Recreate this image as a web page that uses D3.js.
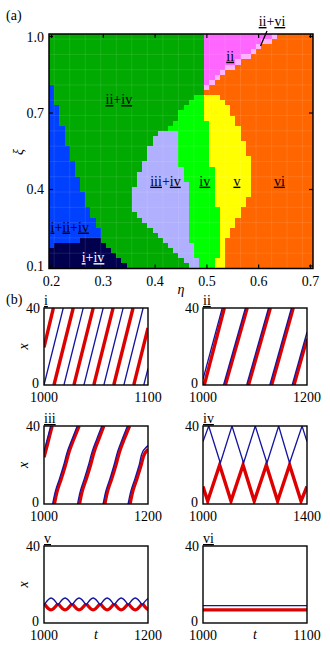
<!DOCTYPE html>
<html>
<head>
<meta charset="utf-8">
<script src="https://cdn.jsdelivr.net/npm/d3@7"></script>
<style>
  body { margin: 0; background: #fff; }
  svg, svg text { font-family: "Liberation Serif", "Times New Roman", "DejaVu Serif", serif; }
</style>
</head>
<body>
<div id="chart"></div>
<script>
// ---- panel (a) data: phase diagram, one row per xi (top = 1.00), runs of [region, first column]
const etaTicks = [0.2, 0.3, 0.4, 0.5, 0.6, 0.7];
const xiTicks = [0.1, 0.4, 0.7, 1.0];
const etaStart = 0.2, etaStep = 0.01, nCols = 51;
const xiTop = 1.0, xiStep = 0.02;
const regionColors = {
  N: "#00004f", B: "#0040ff", G: "#00aa00", A: "#b0b0ff", I: "#00ff00",
  Y: "#ffff00", O: "#ff6600", P: "#ff66ff", L: "#ffb3ff"
};
const rowRuns = [
  [["G",0],["P",30],["L",43],["O",44]],
  [["G",0],["P",30],["L",41],["O",43]],
  [["G",0],["P",30],["L",40],["O",41]],
  [["G",0],["P",30],["L",39],["O",40]],
  [["G",0],["P",30],["L",37],["O",39]],
  [["G",0],["P",30],["L",36],["O",37]],
  [["G",0],["P",30],["L",34],["O",36]],
  [["G",0],["P",30],["L",33],["O",34]],
  [["G",0],["P",30],["L",32],["O",33]],
  [["G",0],["P",30],["L",31],["O",32]],
  [["B",0],["G",1],["L",30],["O",31]],
  [["B",0],["G",1],["O",30]],
  [["B",0],["G",1],["I",28],["Y",30],["O",33]],
  [["B",0],["G",1],["I",27],["Y",30],["O",34]],
  [["B",0],["G",2],["I",26],["Y",30],["O",35]],
  [["B",0],["G",2],["I",25],["Y",30],["O",35]],
  [["B",0],["G",2],["I",25],["Y",30],["O",36]],
  [["B",0],["G",2],["I",24],["Y",31],["O",36]],
  [["B",0],["G",3],["I",23],["Y",31],["O",37]],
  [["B",0],["G",3],["A",21],["I",25],["Y",31],["O",37]],
  [["B",0],["G",3],["A",20],["I",25],["Y",31],["O",37]],
  [["B",0],["G",3],["A",20],["I",25],["Y",31],["O",38]],
  [["B",0],["G",4],["A",19],["I",25],["Y",31],["O",38]],
  [["B",0],["G",4],["A",19],["I",25],["Y",31],["O",38]],
  [["B",0],["G",4],["A",19],["I",25],["Y",31],["O",39]],
  [["B",0],["G",5],["A",18],["I",25],["Y",31],["O",39]],
  [["B",0],["G",5],["A",18],["I",26],["Y",32],["O",39]],
  [["B",0],["G",5],["A",17],["I",26],["Y",32],["O",39]],
  [["B",0],["G",6],["A",17],["I",26],["Y",32],["O",39]],
  [["B",0],["G",6],["A",17],["I",27],["Y",32],["O",39]],
  [["B",0],["G",6],["A",16],["I",27],["Y",32],["O",39]],
  [["B",0],["G",7],["A",16],["I",27],["Y",32],["O",39]],
  [["B",0],["G",7],["A",16],["I",27],["Y",32],["O",38]],
  [["B",0],["G",7],["A",16],["I",27],["Y",32],["O",38]],
  [["B",0],["G",8],["A",16],["I",27],["Y",33],["O",37]],
  [["B",0],["G",8],["A",17],["I",27],["Y",33],["O",37]],
  [["B",0],["G",9],["A",18],["I",27],["Y",33],["O",36]],
  [["B",0],["G",9],["A",19],["I",27],["Y",33],["O",36]],
  [["B",0],["G",10],["A",20],["I",27],["Y",33],["O",35]],
  [["B",0],["G",10],["A",21],["I",27],["Y",33],["O",35]],
  [["B",0],["N",6],["G",10],["A",22],["I",27],["Y",33],["O",34]],
  [["B",0],["N",1],["G",11],["A",23],["I",28],["Y",33],["O",34]],
  [["N",0],["G",12],["A",24],["I",28],["Y",33],["O",34]],
  [["N",0],["G",13],["A",25],["I",28],["Y",33],["O",34]],
  [["N",0],["G",14],["A",26],["I",29],["Y",32],["O",34]],
  [["N",0],["G",15],["A",27],["I",29],["Y",32],["O",34]]
];
// region labels: [eta, xi, parts, white?]
const regionLabels = [
  [0.33, 0.735, ["ii","+","iv"], false],
  [0.235, 0.235, ["i","+","ii","+","iv"], false],
  [0.28, 0.115, ["i","+","iv"], true],
  [0.42, 0.415, ["iii","+","iv"], false],
  [0.496, 0.415, ["iv"], false],
  [0.558, 0.415, ["v"], false],
  [0.64, 0.415, ["vi"], false],
  [0.545, 0.905, ["ii"], false]
];

// ---- panel (b) data: trajectories x(t), red = thick, blue = thin
const panelNames = ["i", "ii", "iii", "iv", "v", "vi"];
const panelTEnd = [1100, 1200, 1200, 1400, 1200, 1100];
const xTicksB = [0, 40];
// i, ii: straight wrapped segments [t0, x0, t1, x1]
const redI = [[1000,19.5,1009,40],[1009.6,0,1028.1,40],[1028.8,0,1047.3,40],[1047.9,0,1066.4,40],[1067.1,0,1085.6,40],[1086.3,0,1100,29.6]];
const blueI = [[1000,0,1018.5,40],[1019.2,0,1037.7,40],[1038.4,0,1056.9,40],[1057.6,0,1076.1,40],[1076.8,0,1095.3,40],[1096,0,1100,8.6]];
const redII = [[1002.5,0,1041,40],[1043,0,1085,40],[1087.5,0,1129.5,40],[1132,0,1173.5,40],[1175,0,1200,24]];
const blueII = [[1000,3,1037,40],[1039.5,0,1081.5,40],[1084,0,1126,40],[1128.5,0,1170,40],[1171.5,0,1200,27.5]];
// iii: wavy wrapped lines, points [t, x]
const redIII = [
  [[1000,24],[1007,31],[1015.5,40]],
  [[1020,0],[1025.7,7],[1033.2,13],[1041.3,20],[1048.4,27],[1056.8,33],[1067.5,40]],
  [[1068.2,0],[1073.9,7],[1081.4,13],[1089.5,20],[1096.6,27],[1105,33],[1115,40]],
  [[1117,0],[1122.7,7],[1130.2,13],[1138.3,20],[1145.4,27],[1153.8,33],[1164.5,40]],
  [[1165.5,0],[1171.2,7],[1178.7,13],[1186.8,20],[1193.9,26],[1200,28]]
];
const blueIII = [
  [[1000,27],[1006,33],[1012.8,40]],
  [[1016.6,0],[1022.3,7],[1029.8,13],[1037.9,20],[1045,27],[1053.5,33],[1063.9,40]],
  [[1064.5,0],[1070.2,7],[1077.6,13],[1085.6,20],[1092.7,27],[1101,33],[1111.2,40]],
  [[1113.7,0],[1119.3,7],[1126.8,13],[1134.7,20],[1141.7,27],[1150,33],[1160.4,40]],
  [[1161.7,0],[1167.4,7],[1174.9,13],[1183,20],[1190.1,27],[1200,30]]
];
// iv: zigzags
const redIV = [[1000,9],[1018,1.5],[1064,20],[1107.7,1.5],[1154,20],[1197,1.5],[1243.6,20],[1287,1.5],[1333,20],[1377,1.5],[1400,9]];
const blueIV = [[1000,32],[1022,40],[1066.7,21],[1111.5,40],[1156,21],[1201,40],[1246,21],[1291,40],[1333,21],[1381,40],[1400,32]];
// v: chains of arcs, cusp times and extremum times
const cuspsV = [1000, 1027, 1054, 1081, 1108, 1135, 1162, 1189, 1216];
const peaksV = [1013.5, 1040.5, 1067.5, 1094.5, 1121.5, 1148.5, 1175.5, 1202.5];
const blueVLevels = [9.3, 13];   // cusp, peak
const redVLevels = [10.2, 6.8];  // cusp, trough
// vi: steady positions
const redVI = [[1000,6.8],[1100,6.8]];
const blueVI = [[1000,9],[1100,9]];

const RED = "#dd0000", BLUE = "#1414a0";
const FONT = "'Liberation Serif', 'Times New Roman', serif";
const W = 330, H = 655;

const svg = d3.select("#chart").append("svg").attr("width", W).attr("height", H)
  .attr("font-family", FONT);

// ================= panel (a) =================
const ax = { left: 49, right: 313, top: 34, bottom: 268.5 };
const x = d3.scaleLinear().domain([etaStart - etaStep / 2, 0.7 + etaStep / 2]).range([ax.left, ax.right]);
const y = d3.scaleLinear().domain([0.1 - xiStep / 2, xiTop + xiStep / 2]).range([ax.bottom, ax.top]);

const cells = svg.append("g").attr("shape-rendering", "crispEdges");
rowRuns.forEach((runs, r) => {
  const xi = xiTop - r * xiStep;
  runs.forEach(([code, start], k) => {
    const end = k + 1 < runs.length ? runs[k + 1][1] : nCols;
    const e0 = etaStart + (start - 0.5) * etaStep;
    const e1 = etaStart + (end - 0.5) * etaStep;
    cells.append("rect")
      .attr("x", x(e0)).attr("width", x(e1) - x(e0))
      .attr("y", y(xi + xiStep / 2)).attr("height", y(xi - xiStep / 2) - y(xi + xiStep / 2) + 0.3)
      .attr("fill", regionColors[code]);
  });
});

// faint seams
const seams = svg.append("g").attr("stroke", "#fff").attr("stroke-opacity", 0.13).attr("stroke-width", 0.8);
for (let c = 1; c < nCols; c += 3) {
  const xv = x(etaStart + (c - 0.5) * etaStep);
  seams.append("line").attr("x1", xv).attr("x2", xv).attr("y1", ax.top).attr("y2", ax.bottom);
}
for (let r = 1; r < rowRuns.length; r += 3) {
  const yv = y(xiTop - (r - 0.5) * xiStep);
  seams.append("line").attr("x1", ax.left).attr("x2", ax.right).attr("y1", yv).attr("y2", yv);
}

// frame + inward ticks on all sides
svg.append("rect").attr("x", ax.left).attr("y", ax.top)
  .attr("width", ax.right - ax.left).attr("height", ax.bottom - ax.top)
  .attr("fill", "none").attr("stroke", "#000").attr("stroke-width", 1.5);
const tk = svg.append("g").attr("stroke", "#000").attr("stroke-width", 1.2);
etaTicks.forEach(v => {
  tk.append("line").attr("x1", x(v)).attr("x2", x(v)).attr("y1", ax.bottom).attr("y2", ax.bottom - 4);
  tk.append("line").attr("x1", x(v)).attr("x2", x(v)).attr("y1", ax.top).attr("y2", ax.top + 4);
});
xiTicks.forEach(v => {
  tk.append("line").attr("x1", ax.left).attr("x2", ax.left + 4).attr("y1", y(v)).attr("y2", y(v));
  tk.append("line").attr("x1", ax.right).attr("x2", ax.right - 4).attr("y1", y(v)).attr("y2", y(v));
});
svg.append("g").selectAll("text").data(etaTicks).join("text")
  .attr("x", d => x(d)).attr("y", 286).attr("text-anchor", "middle")
  .attr("font-size", 14).text(d => d3.format(".1f")(d));
svg.append("g").selectAll("text").data(xiTicks).join("text")
  .attr("x", 44).attr("y", d => y(d) + 5).attr("text-anchor", "end")
  .attr("font-size", 14).text(d => d3.format(".1f")(d));

svg.append("text").attr("x", 181).attr("y", 294).attr("text-anchor", "middle")
  .attr("font-size", 14).attr("font-style", "italic").text("η");
svg.append("text").attr("transform", "translate(23,152) rotate(-90)").attr("text-anchor", "middle")
  .attr("font-size", 14).attr("font-style", "italic").text("ξ");
svg.append("text").attr("x", 6).attr("y", 20).attr("font-size", 14).text("(a)");

function labelParts(g, parts) {
  parts.forEach(p => {
    g.append("tspan").attr("text-decoration", p === "+" ? "none" : "underline").text(p);
  });
}
regionLabels.forEach(([eta, xi, parts, white]) => {
  const t = svg.append("text").attr("x", x(eta)).attr("y", y(xi)).attr("text-anchor", "middle")
    .attr("font-size", 14).attr("fill", white ? "#fff" : "#000");
  labelParts(t, parts);
});
const iivi = svg.append("text").attr("x", 272).attr("y", 26).attr("text-anchor", "middle").attr("font-size", 14);
labelParts(iivi, ["ii", "+", "vi"]);
svg.append("line").attr("x1", 267).attr("y1", 31).attr("x2", 260.5).attr("y2", 46)
  .attr("stroke", "#000").attr("stroke-width", 1.3);

// ================= panel (b) =================
svg.append("text").attr("x", 6).attr("y", 304).attr("font-size", 14).text("(b)");

const boxCols = [[44, 148], [203, 307]];
const boxRows = [[308, 385], [426, 504], [546, 623]];

function drawPanel(k, drawFn) {
  const [bx0, bx1] = boxCols[k % 2];
  const [by0, by1] = boxRows[Math.floor(k / 2)];
  const sx = d3.scaleLinear().domain([1000, panelTEnd[k]]).range([bx0, bx1]);
  const sy = d3.scaleLinear().domain([0, 40]).range([by1, by0]);
  svg.append("clipPath").attr("id", "clip" + k).append("rect")
    .attr("x", bx0).attr("y", by0).attr("width", bx1 - bx0).attr("height", by1 - by0);
  const g = svg.append("g").attr("clip-path", `url(#clip${k})`).attr("fill", "none");
  drawFn(g, sx, sy);
  svg.append("rect").attr("x", bx0).attr("y", by0).attr("width", bx1 - bx0).attr("height", by1 - by0)
    .attr("fill", "none").attr("stroke", "#000").attr("stroke-width", 1.4);
  // tick labels
  svg.append("text").attr("x", bx0 - 4).attr("y", sy(40) + 5).attr("text-anchor", "end")
    .attr("font-size", 14).text(xTicksB[1]);
  svg.append("text").attr("x", bx0 - 5).attr("y", sy(0) + 3).attr("text-anchor", "end")
    .attr("font-size", 14).text(xTicksB[0]);
  sx.domain().forEach(v => {
    svg.append("text").attr("x", sx(v)).attr("y", by1 + 16.5).attr("text-anchor", "middle")
      .attr("font-size", 14).text(v);
  });
  const lab = svg.append("text").attr("x", bx0).attr("y", by0 - 3).attr("font-size", 14);
  labelParts(lab, [panelNames[k]]);
  if (k % 2 === 0) {
    svg.append("text").attr("transform", `translate(28,${(by0 + by1) / 2}) rotate(-90)`)
      .attr("text-anchor", "middle").attr("font-size", 14).attr("font-style", "italic").text("x");
  }
  if (k >= 4) {
    svg.append("text").attr("x", (bx0 + bx1) / 2).attr("y", 639).attr("text-anchor", "middle")
      .attr("font-size", 14).attr("font-style", "italic").text("t");
  }
}

function segs(g, sx, sy, data, color, w) {
  g.selectAll(null).data(data).join("line")
    .attr("x1", d => sx(d[0])).attr("y1", d => sy(d[1]))
    .attr("x2", d => sx(d[2])).attr("y2", d => sy(d[3]))
    .attr("stroke", color).attr("stroke-width", w);
}
function paths(g, sx, sy, data, color, w, curve) {
  const ln = d3.line().x(d => sx(d[0])).y(d => sy(d[1])).curve(curve || d3.curveLinear);
  g.selectAll(null).data(data).join("path")
    .attr("d", ln).attr("stroke", color).attr("stroke-width", w)
    .attr("stroke-linejoin", "miter");
}
function arcs(levels, cusps, peaks) {
  return peaks.map((p, i) => [[cusps[i], levels[0]], [p, levels[1]], [cusps[i + 1], levels[0]]]);
}

drawPanel(0, (g, sx, sy) => {
  segs(g, sx, sy, redI, RED, 3.4);
  segs(g, sx, sy, blueI, BLUE, 1.3);
});
drawPanel(1, (g, sx, sy) => {
  segs(g, sx, sy, redII, RED, 3.4);
  segs(g, sx, sy, blueII, BLUE, 1.3);
});
drawPanel(2, (g, sx, sy) => {
  paths(g, sx, sy, redIII, RED, 3.4, d3.curveMonotoneY);
  paths(g, sx, sy, blueIII, BLUE, 1.3, d3.curveMonotoneY);
});
drawPanel(3, (g, sx, sy) => {
  paths(g, sx, sy, [redIV], RED, 3.4);
  paths(g, sx, sy, [blueIV], BLUE, 1.3);
});
drawPanel(4, (g, sx, sy) => {
  paths(g, sx, sy, arcs(redVLevels, cuspsV, peaksV), RED, 3.4, d3.curveMonotoneX);
  paths(g, sx, sy, arcs(blueVLevels, cuspsV, peaksV), BLUE, 1.3, d3.curveMonotoneX);
});
drawPanel(5, (g, sx, sy) => {
  paths(g, sx, sy, [redVI], RED, 3.4);
  paths(g, sx, sy, [blueVI], BLUE, 1.3);
});
</script>
</body>
</html>
